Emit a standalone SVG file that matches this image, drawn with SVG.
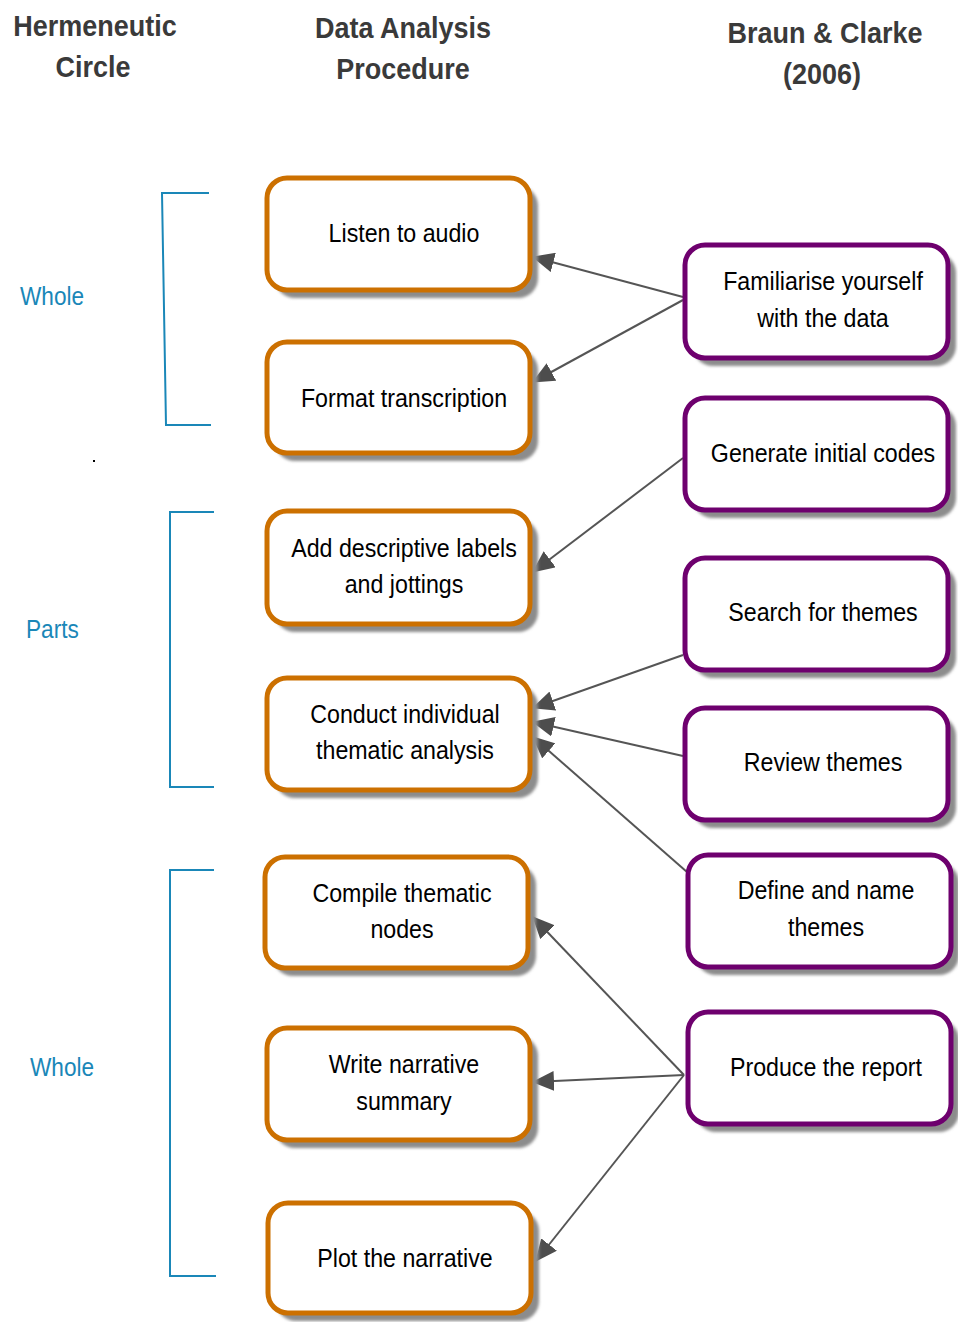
<svg xmlns="http://www.w3.org/2000/svg" width="958" height="1322" viewBox="0 0 958 1322">
<style>
.hdr{font-family:"Liberation Sans",sans-serif;font-weight:bold;font-size:30px;fill:#3a3a3a;text-anchor:middle}
.lbl{font-family:"Liberation Sans",sans-serif;font-size:25.5px;fill:#000;text-anchor:middle}
.side{font-family:"Liberation Sans",sans-serif;font-size:26px;fill:#1a87b8}
.o{fill:#fff;stroke:#cc7000;stroke-width:5}
.p{fill:#fff;stroke:#6e006e;stroke-width:5}
.sh{fill:#8c8c8c;filter:url(#blur)}
.br{fill:none;stroke:#1a87b8;stroke-width:2}
.c{stroke:#555;stroke-width:2;fill:none;marker-end:url(#ah)}
</style>
<defs>
<filter id="blur" x="-10%" y="-10%" width="120%" height="120%"><feGaussianBlur stdDeviation="1.5"/></filter>
<marker id="ah" viewBox="0 0 22 20" refX="21" refY="10" markerWidth="22" markerHeight="20" markerUnits="userSpaceOnUse" orient="auto"><path d="M0,0 L22,10 L0,20 Z" fill="#4d4d4d"/></marker>
</defs>
<rect width="958" height="1322" fill="#fff"/>
<g id="headers">
<text class="hdr" transform="translate(95 36) scale(0.9 1)">Hermeneutic</text>
<text class="hdr" transform="translate(93 77) scale(0.9 1)">Circle</text>
<text class="hdr" transform="translate(403 38) scale(0.9 1)">Data Analysis</text>
<text class="hdr" transform="translate(403 79) scale(0.9 1)">Procedure</text>
<text class="hdr" transform="translate(825 43) scale(0.9 1)">Braun &amp; Clarke</text>
<text class="hdr" transform="translate(822 84) scale(0.9 1)">(2006)</text>
</g>
<g id="hermeneutic">
<path class="br" d="M209,193 H162 L166,425 H211"/>
<path class="br" d="M214,512 H170 V787 H214"/>
<path class="br" d="M214,870 H170 V1276 H216"/>
<text class="side" transform="translate(20 305) scale(0.87 1)">Whole</text>
<text class="side" transform="translate(26 638) scale(0.87 1)">Parts</text>
<text class="side" transform="translate(30 1076) scale(0.87 1)">Whole</text>
<rect x="93" y="460" width="2" height="2" fill="#000"/>
</g>
<g id="connectors">
<line class="c" x1="683" y1="297" x2="533" y2="257"/>
<line class="c" x1="683" y1="300" x2="533" y2="382"/>
<line class="c" x1="683" y1="458" x2="533" y2="572"/>
<line class="c" x1="683" y1="655" x2="533" y2="708"/>
<line class="c" x1="683" y1="756" x2="533" y2="722"/>
<line class="c" x1="687" y1="872" x2="533" y2="737"/>
<line class="c" x1="684" y1="1075" x2="533" y2="917"/>
<line class="c" x1="684" y1="1075" x2="533" y2="1082"/>
<line class="c" x1="684" y1="1075" x2="536" y2="1261"/>
</g>
<g id="n1"><rect class="sh" x="275" y="186" width="263" height="112" rx="20"/><rect class="o" x="267" y="178" width="263" height="112" rx="20"/><text class="lbl" transform="translate(404 242) scale(0.91 1)">Listen to audio</text></g>
<g id="n2"><rect class="sh" x="275" y="350" width="263" height="111" rx="20"/><rect class="o" x="267" y="342" width="263" height="111" rx="20"/><text class="lbl" transform="translate(404 407) scale(0.91 1)">Format transcription</text></g>
<g id="n3"><rect class="sh" x="275" y="519" width="263" height="113" rx="20"/><rect class="o" x="267" y="511" width="263" height="113" rx="20"/><text class="lbl" transform="translate(404 557) scale(0.91 1)">Add descriptive labels</text><text class="lbl" transform="translate(404 593) scale(0.91 1)">and jottings</text></g>
<g id="n4"><rect class="sh" x="275" y="686" width="263" height="112" rx="20"/><rect class="o" x="267" y="678" width="263" height="112" rx="20"/><text class="lbl" transform="translate(405 723) scale(0.91 1)">Conduct individual</text><text class="lbl" transform="translate(405 759) scale(0.91 1)">thematic analysis</text></g>
<g id="n5"><rect class="sh" x="273" y="865" width="263" height="111" rx="20"/><rect class="o" x="265" y="857" width="263" height="111" rx="20"/><text class="lbl" transform="translate(402 902) scale(0.91 1)">Compile thematic</text><text class="lbl" transform="translate(402 938) scale(0.91 1)">nodes</text></g>
<g id="n6"><rect class="sh" x="275" y="1036" width="263" height="112" rx="20"/><rect class="o" x="267" y="1028" width="263" height="112" rx="20"/><text class="lbl" transform="translate(404 1073) scale(0.91 1)">Write narrative</text><text class="lbl" transform="translate(404 1110) scale(0.91 1)">summary</text></g>
<g id="n7"><rect class="sh" x="276" y="1211" width="263" height="110" rx="20"/><rect class="o" x="268" y="1203" width="263" height="110" rx="20"/><text class="lbl" transform="translate(405 1267) scale(0.91 1)">Plot the narrative</text></g>
<g id="p1"><rect class="sh" x="693" y="253" width="263" height="113" rx="20"/><rect class="p" x="685" y="245" width="263" height="113" rx="20"/><text class="lbl" transform="translate(823 290) scale(0.91 1)">Familiarise yourself</text><text class="lbl" transform="translate(823 327) scale(0.91 1)">with the data</text></g>
<g id="p2"><rect class="sh" x="693" y="406" width="263" height="112" rx="20"/><rect class="p" x="685" y="398" width="263" height="112" rx="20"/><text class="lbl" transform="translate(823 462) scale(0.91 1)">Generate initial codes</text></g>
<g id="p3"><rect class="sh" x="693" y="566" width="263" height="112" rx="20"/><rect class="p" x="685" y="558" width="263" height="112" rx="20"/><text class="lbl" transform="translate(823 621) scale(0.91 1)">Search for themes</text></g>
<g id="p4"><rect class="sh" x="693" y="716" width="263" height="112" rx="20"/><rect class="p" x="685" y="708" width="263" height="112" rx="20"/><text class="lbl" transform="translate(823 771) scale(0.91 1)">Review themes</text></g>
<g id="p5"><rect class="sh" x="696" y="863" width="263" height="112" rx="20"/><rect class="p" x="688" y="855" width="263" height="112" rx="20"/><text class="lbl" transform="translate(826 899) scale(0.91 1)">Define and name</text><text class="lbl" transform="translate(826 936) scale(0.91 1)">themes</text></g>
<g id="p6"><rect class="sh" x="696" y="1020" width="263" height="112" rx="20"/><rect class="p" x="688" y="1012" width="263" height="112" rx="20"/><text class="lbl" transform="translate(826 1076) scale(0.91 1)">Produce the report</text></g>
</svg>
